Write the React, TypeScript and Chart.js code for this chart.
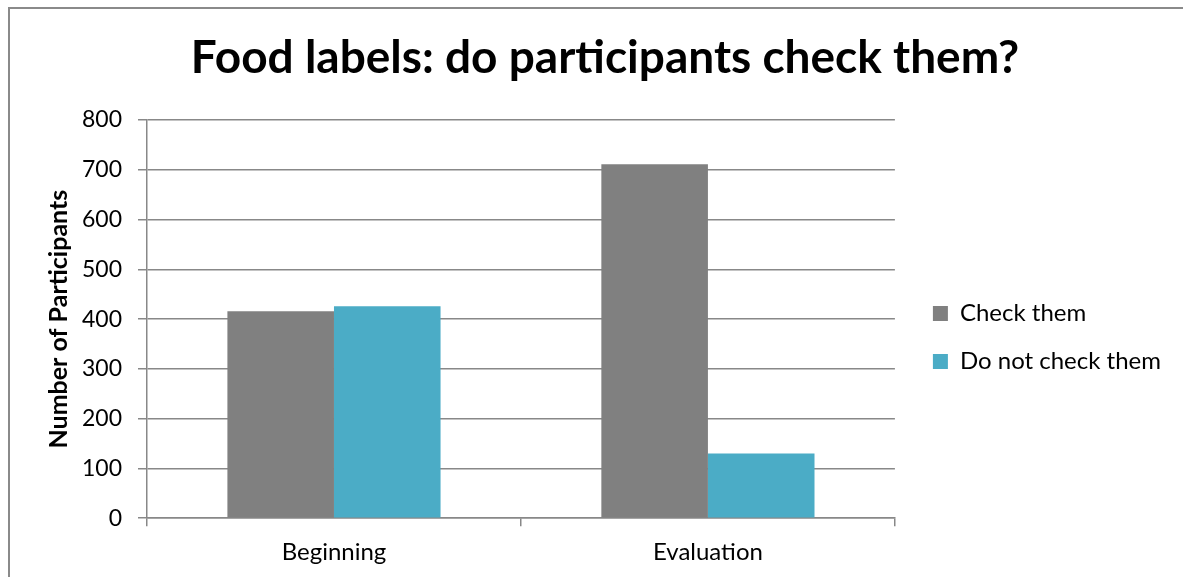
import React, { useEffect, useRef } from "react";
import { Chart, registerables } from "chart.js";

Chart.register(...registerables);

const FONT = "Lato";

const chartTitle = "Food labels: do participants check them?";
const yAxisTitle = "Number of Participants";
const categories = ["Beginning", "Evaluation"];
const seriesNames = ["Check them", "Do not check them"];
const checkThem = [416, 711];
const doNotCheckThem = [426, 130];
const yTicks = [0, 100, 200, 300, 400, 500, 600, 700, 800];

const GRID = "#888888";

export default function App() {
  const ref = useRef<HTMLCanvasElement | null>(null);

  useEffect(() => {
    if (!ref.current) return;
    const chart = new Chart(ref.current, {
      type: "bar",
      data: {
        labels: categories,
        datasets: [
          {
            label: seriesNames[0],
            data: checkThem,
            backgroundColor: "#808080",
            categoryPercentage: 0.57,
            barPercentage: 1,
          },
          {
            label: seriesNames[1],
            data: doNotCheckThem,
            backgroundColor: "#4BACC6",
            categoryPercentage: 0.57,
            barPercentage: 1,
          },
        ],
      },
      options: {
        responsive: false,
        animation: false,
        layout: { padding: { top: 0, bottom: 6, left: 0, right: 0 } },
        plugins: {
          title: {
            display: true,
            text: chartTitle,
            color: "#000",
            font: { family: FONT, size: 46, weight: "bold" },
            padding: { top: 21.6, bottom: 34.2 },
          },
          legend: {
            position: "right",
            fullSize: false,
            align: "center",
            maxWidth: 400,
            title: {
              display: true,
              text: " ",
              font: { size: 10 },
              padding: { top: 0, bottom: 25 },
            },
            labels: {
              boxWidth: 15,
              boxHeight: 15,
              padding: 24,
              color: "#000",
              font: { family: FONT, size: 24 },
            },
          },
          tooltip: { enabled: false },
        },
        scales: {
          x: {
            grid: {
              display: true,
              drawOnChartArea: false,
              drawTicks: true,
              tickLength: 8,
              color: GRID,
              lineWidth: 1.5,
            },
            border: { display: true, color: GRID, width: 1.5 },
            ticks: {
              color: "#000",
              font: { family: FONT, size: 24 },
              padding: 12,
            },
          },
          y: {
            min: 0,
            max: 800,
            afterBuildTicks: (s: any) => {
              s.ticks = yTicks.map((v) => ({ value: v }));
            },
            afterFit: (s: any) => {
              s.width = 137;
            },
            ticks: {
              color: "#000",
              font: { family: FONT, size: 23 },
              padding: 16,
            },
            grid: { color: GRID, lineWidth: 1.5, tickLength: 9 },
            border: { color: GRID, width: 1.5 },
            title: {
              display: true,
              text: yAxisTitle,
              color: "#000",
              font: { family: FONT, size: 25, weight: "bold" },
              padding: { top: 34, bottom: 0 },
            },
          },
          padIn: {
            type: "linear",
            position: "right",
            weight: 1,
            display: true,
            ticks: { display: false },
            grid: { display: false },
            border: { display: false },
            afterFit: (s: any) => {
              s.width = 14;
            },
          },
          padOut: {
            type: "linear",
            position: "right",
            weight: 3000,
            display: true,
            ticks: { display: false },
            grid: { display: false },
            border: { display: false },
            afterFit: (s: any) => {
              s.width = 29;
            },
          },
        },
      } as any,
    });
    return () => chart.destroy();
  }, []);

  return (
    <div
      style={{
        position: "fixed",
        left: 0,
        top: 0,
        width: "100vw",
        height: "100vh",
        overflow: "hidden",
        background: "#fff",
      }}
    >
      <div
        style={{
          position: "absolute",
          left: 8,
          top: 7,
          width: 1220,
          height: 640,
          borderLeft: "2px solid #8a8a8a",
          borderTop: "2px solid #8a8a8a",
        }}
      >
        <canvas ref={ref} width={1190} height={576} style={{ display: "block" }} />
      </div>
    </div>
  );
}
